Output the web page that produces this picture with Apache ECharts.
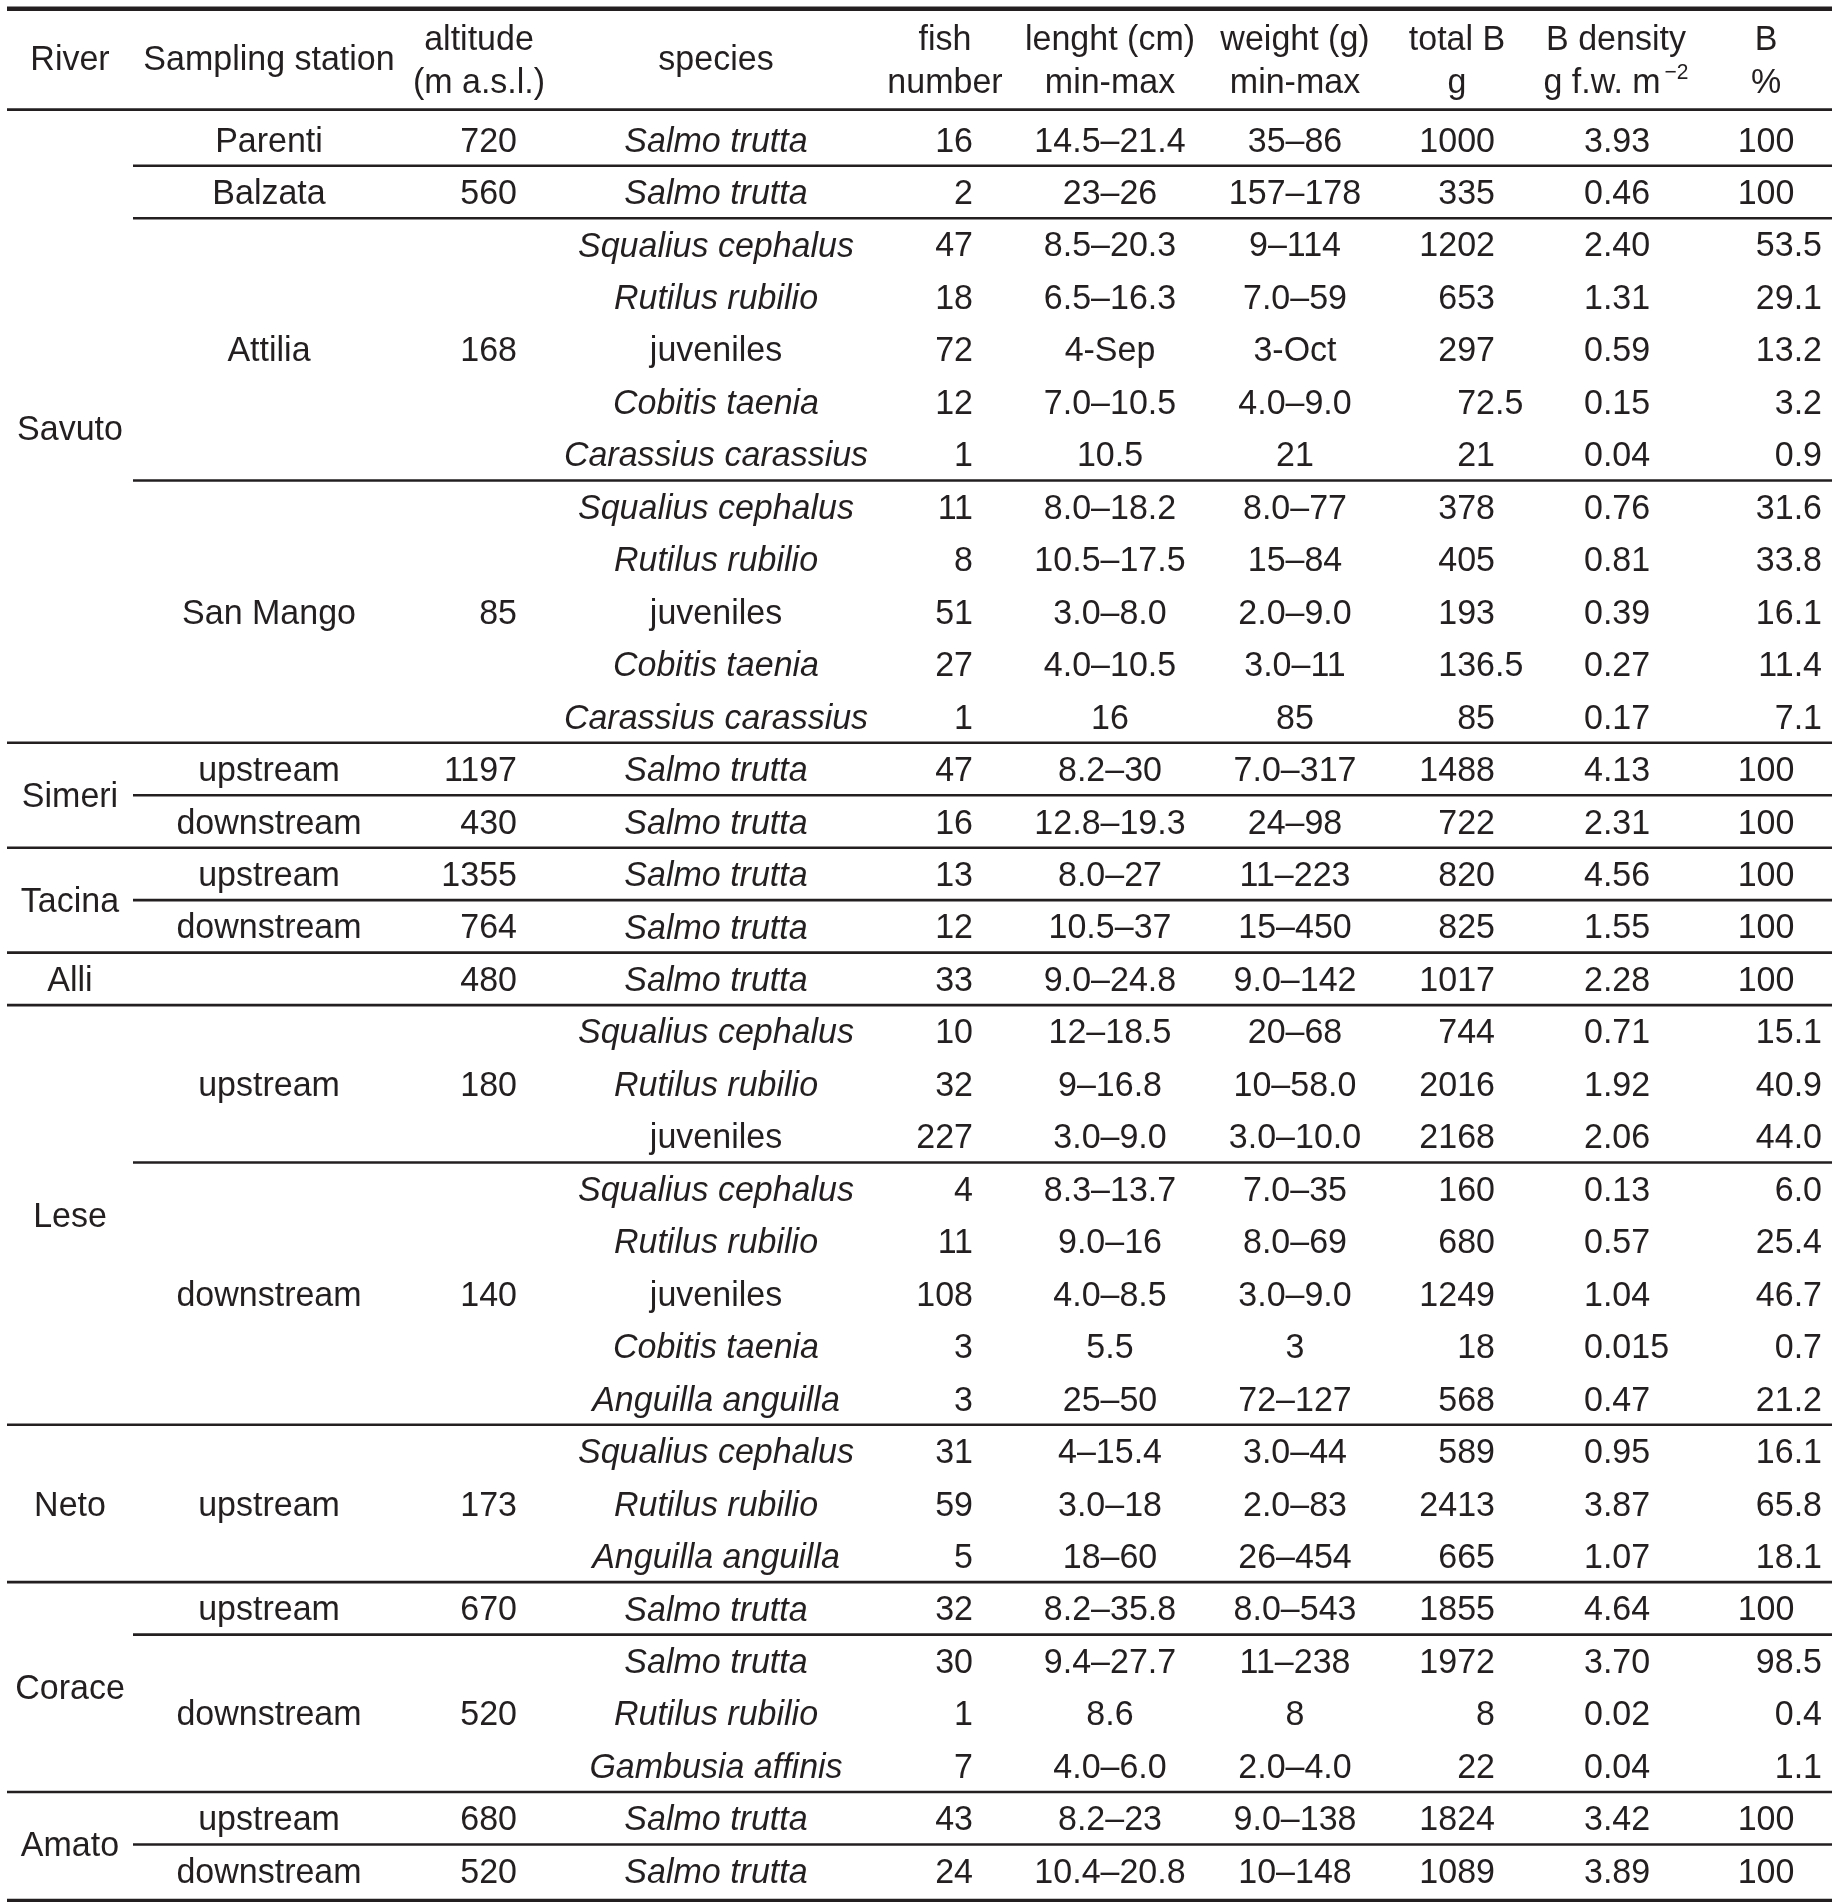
<!DOCTYPE html>
<html>
<head>
<meta charset="utf-8">
<script src="https://cdn.jsdelivr.net/npm/echarts@6/dist/echarts.min.js"></script>
<style>
html,body{margin:0;padding:0;background:#fff;}
#chart{width:1838px;height:1902px;}
</style>
</head>
<body>
<div id="chart"></div>
<script>
// ---------------- DATA ----------------
const headerLine1 = ['', '', 'altitude', '', 'fish', 'lenght (cm)', 'weight (g)', 'total B', 'B density', 'B'];
const headerLine2 = ['', '', '(m a.s.l.)', '', 'number', 'min-max', 'min-max', 'g', 'g f.w. m^−2', '%'];
const headerSingle = ['River', 'Sampling station', '', 'species', '', '', '', '', '', ''];

const riverNames = ['Savuto', 'Simeri', 'Tacina', 'Alli', 'Lese', 'Neto', 'Corace', 'Amato'];
const riverRowCounts = [12, 2, 2, 1, 8, 3, 4, 2];
const riverStationCounts = [4, 2, 2, 1, 2, 1, 2, 2];

const stationNames = ['Parenti', 'Balzata', 'Attilia', 'San Mango', 'upstream', 'downstream', 'upstream', 'downstream', '', 'upstream', 'downstream', 'upstream', 'upstream', 'downstream', 'upstream', 'downstream'];
const stationRowCounts = [1, 1, 5, 5, 1, 1, 1, 1, 1, 3, 5, 3, 1, 3, 1, 1];
const altitudes = ['720', '560', '168', '85', '1197', '430', '1355', '764', '480', '180', '140', '173', '670', '520', '680', '520'];

const species = ['Salmo trutta', 'Salmo trutta',
  'Squalius cephalus', 'Rutilus rubilio', 'juveniles', 'Cobitis taenia', 'Carassius carassius',
  'Squalius cephalus', 'Rutilus rubilio', 'juveniles', 'Cobitis taenia', 'Carassius carassius',
  'Salmo trutta', 'Salmo trutta', 'Salmo trutta', 'Salmo trutta', 'Salmo trutta',
  'Squalius cephalus', 'Rutilus rubilio', 'juveniles',
  'Squalius cephalus', 'Rutilus rubilio', 'juveniles', 'Cobitis taenia', 'Anguilla anguilla',
  'Squalius cephalus', 'Rutilus rubilio', 'Anguilla anguilla',
  'Salmo trutta', 'Salmo trutta', 'Rutilus rubilio', 'Gambusia affinis',
  'Salmo trutta', 'Salmo trutta'];
const fishNumber = ['16', '2', '47', '18', '72', '12', '1', '11', '8', '51', '27', '1', '47', '16', '13', '12', '33', '10', '32', '227', '4', '11', '108', '3', '3', '31', '59', '5', '32', '30', '1', '7', '43', '24'];
const lengthRange = ['14.5–21.4', '23–26', '8.5–20.3', '6.5–16.3', '4-Sep', '7.0–10.5', '10.5', '8.0–18.2', '10.5–17.5', '3.0–8.0', '4.0–10.5', '16', '8.2–30', '12.8–19.3', '8.0–27', '10.5–37', '9.0–24.8', '12–18.5', '9–16.8', '3.0–9.0', '8.3–13.7', '9.0–16', '4.0–8.5', '5.5', '25–50', '4–15.4', '3.0–18', '18–60', '8.2–35.8', '9.4–27.7', '8.6', '4.0–6.0', '8.2–23', '10.4–20.8'];
const weightRange = ['35–86', '157–178', '9–114', '7.0–59', '3-Oct', '4.0–9.0', '21', '8.0–77', '15–84', '2.0–9.0', '3.0–11', '85', '7.0–317', '24–98', '11–223', '15–450', '9.0–142', '20–68', '10–58.0', '3.0–10.0', '7.0–35', '8.0–69', '3.0–9.0', '3', '72–127', '3.0–44', '2.0–83', '26–454', '8.0–543', '11–238', '8', '2.0–4.0', '9.0–138', '10–148'];
const totalB = ['1000', '335', '1202', '653', '297', '72.5', '21', '378', '405', '193', '136.5', '85', '1488', '722', '820', '825', '1017', '744', '2016', '2168', '160', '680', '1249', '18', '568', '589', '2413', '665', '1855', '1972', '8', '22', '1824', '1089'];
const bDensity = ['3.93', '0.46', '2.40', '1.31', '0.59', '0.15', '0.04', '0.76', '0.81', '0.39', '0.27', '0.17', '4.13', '2.31', '4.56', '1.55', '2.28', '0.71', '1.92', '2.06', '0.13', '0.57', '1.04', '0.015', '0.47', '0.95', '3.87', '1.07', '4.64', '3.70', '0.02', '0.04', '3.42', '3.89'];
const bPercent = ['100', '100', '53.5', '29.1', '13.2', '3.2', '0.9', '31.6', '33.8', '16.1', '11.4', '7.1', '100', '100', '100', '100', '100', '15.1', '40.9', '44.0', '6.0', '25.4', '46.7', '0.7', '21.2', '16.1', '65.8', '18.1', '100', '98.5', '0.4', '1.1', '100', '100'];

// ---------------- LAYOUT ----------------
const W = 1838, H = 1902;
const ROW0 = 139.5, ROWH = 52.46;           // pixel position of row 0 centre and row pitch
const yMin = -ROW0 / ROWH, yMax = yMin + H / ROWH;
const FONT_FAMILY = '"Liberation Sans", Arial, Helvetica, sans-serif';
const FS = 34;
const TEXT_DY = 2.2;      // small downward nudge of text baseline box
const TEXT_SY = 1.05;     // slightly taller glyphs like the reference face
const INK = '#231f20';
const headerY = { l1: -1.93, l2: -1.12, single: -1.55 };
const colHeaderX = [70, 269, 479, 716, 945, 1110, 1295, 1457, 1616, 1766];
const colX = { river: 70, station: 269, alt: 517, species: 716, fish: 973, len: 1110, wt: 1295, tot: 1495, dens: 1584, pctC: 1766, pctR: 1822 };
const LINE_L = 7, LINE_PART = 133, LINE_R = 1832;
const TOP_RULE = -2.49, HEAD_RULE = -0.57;

const measureCtx = document.createElement('canvas').getContext('2d');
function textWidth(t, size, italic) {
  measureCtx.font = (italic ? 'italic ' : '') + size + 'px ' + FONT_FAMILY;
  return measureCtx.measureText(t).width;
}

// ---------------- CELLS ----------------
const cells = [];
function addCell(x, y, text, align, italic, size) {
  if (text === '') return;
  cells.push({ x: x, y: y, text: text, align: align || 'center', italic: !!italic, size: size || FS });
}

// header
for (let c = 0; c < colHeaderX.length; c++) {
  addCell(colHeaderX[c], headerY.single, headerSingle[c]);
  addCell(colHeaderX[c], headerY.l1, headerLine1[c]);
  const t2 = headerLine2[c];
  if (t2.indexOf('^') >= 0) {
    const parts = t2.split('^');
    const supSize = 21;
    const w1 = textWidth(parts[0], FS), gap = 4, w2 = textWidth(parts[1], supSize);
    const start = colHeaderX[c] - (w1 + gap + w2) / 2;
    addCell(start, headerY.l2, parts[0], 'left');
    addCell(start + w1 + gap, headerY.l2 - 0.2, parts[1], 'left', false, supSize);
  } else {
    addCell(colHeaderX[c], headerY.l2, t2);
  }
}

// rivers
let r0 = 0;
for (let i = 0; i < riverNames.length; i++) {
  addCell(colX.river, r0 + (riverRowCounts[i] - 1) / 2, riverNames[i]);
  r0 += riverRowCounts[i];
}
// stations + altitudes
r0 = 0;
for (let i = 0; i < stationNames.length; i++) {
  const yc = r0 + (stationRowCounts[i] - 1) / 2;
  addCell(colX.station, yc, stationNames[i]);
  addCell(colX.alt, yc, altitudes[i], 'right');
  r0 += stationRowCounts[i];
}
// species rows
for (let r = 0; r < species.length; r++) {
  addCell(colX.species, r, species[r], 'center', species[r] !== 'juveniles');
  addCell(colX.fish, r, fishNumber[r], 'right');
  addCell(colX.len, r, lengthRange[r], 'center');
  addCell(colX.wt, r, weightRange[r], 'center');
  const tb = totalB[r];
  const dot = tb.indexOf('.');
  if (dot >= 0) {
    addCell(colX.tot, r, tb.slice(0, dot), 'right');
    addCell(colX.tot, r, tb.slice(dot), 'left');
  } else {
    addCell(colX.tot, r, tb, 'right');
  }
  addCell(colX.dens, r, bDensity[r], 'left');
  const p = bPercent[r];
  if (p.indexOf('.') >= 0) addCell(colX.pctR, r, p, 'right');
  else addCell(colX.pctC, r, p, 'center');
}

// ---------------- RULES ----------------
const rules = [];
rules.push([LINE_L, TOP_RULE, LINE_R, TOP_RULE, 4.5]);
rules.push([LINE_L, HEAD_RULE, LINE_R, HEAD_RULE, 2.6]);
{
  let rowPos = 0, st = 0;
  for (let i = 0; i < riverNames.length; i++) {
    for (let s = 0; s < riverStationCounts[i]; s++) {
      rowPos += stationRowCounts[st++];
      const y = rowPos - 0.5;
      const lastStation = s === riverStationCounts[i] - 1;
      if (!lastStation) rules.push([LINE_PART, y, LINE_R, y, 2.6]);
      else if (i < riverNames.length - 1) rules.push([LINE_L, y, LINE_R, y, 2.6]);
    }
  }
  const yb = rowPos - 0.5 + 0.08;
  rules.push([LINE_L, yb, LINE_R, yb, 4.5]);
}

// ---------------- CHART ----------------
const chart = echarts.init(document.getElementById('chart'), null, { renderer: 'canvas' });
chart.setOption({
  backgroundColor: '#ffffff',
  animation: false,
  grid: { left: 0, right: 0, top: 0, bottom: 0, containLabel: false },
  xAxis: { type: 'value', min: 0, max: W, show: false },
  yAxis: { type: 'value', min: yMin, max: yMax, inverse: true, show: false },
  series: [
    {
      type: 'custom',
      silent: true,
      clip: false,
      data: rules,
      renderItem: function (params, api) {
        const p1 = api.coord([api.value(0), api.value(1)]);
        const p2 = api.coord([api.value(2), api.value(3)]);
        return {
          type: 'line',
          shape: { x1: p1[0], y1: p1[1], x2: p2[0], y2: p2[1] },
          style: { stroke: INK, lineWidth: api.value(4) }
        };
      }
    },
    {
      type: 'custom',
      silent: true,
      clip: false,
      data: cells.map(function (c) { return [c.x, c.y]; }),
      renderItem: function (params, api) {
        const c = cells[params.dataIndex];
        const p = api.coord([api.value(0), api.value(1)]);
        return {
          type: 'text',
          x: p[0],
          y: p[1] + TEXT_DY,
          scaleY: TEXT_SY,
          style: {
            text: c.text,
            fill: INK,
            font: (c.italic ? 'italic ' : '') + c.size + 'px ' + FONT_FAMILY,
            align: c.align,
            verticalAlign: 'middle'
          }
        };
      }
    }
  ]
});
</script>
</body>
</html>
